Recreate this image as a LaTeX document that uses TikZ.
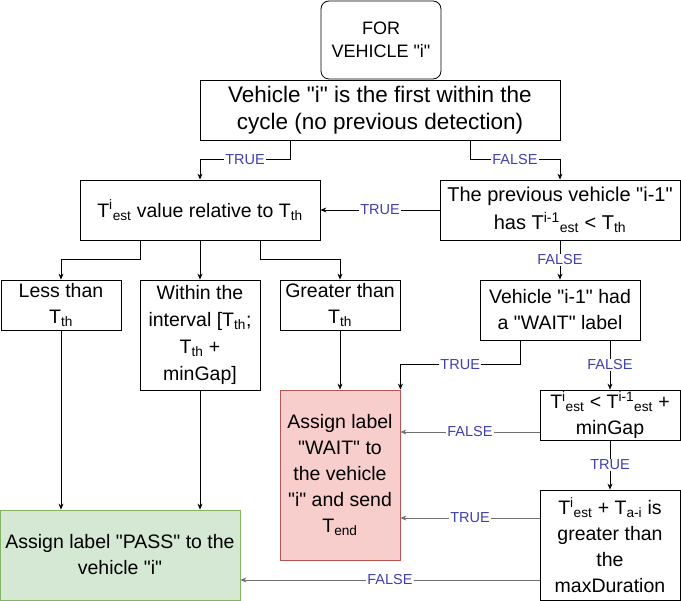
\documentclass[tikz,border=0pt]{standalone}
\usepackage{fontspec}
\setmainfont{Liberation Sans}[Ligatures=TeXOff]
\usetikzlibrary{arrows.meta}
\definecolor{lblblue}{HTML}{3F3FB0}
\definecolor{linegray}{HTML}{707070}
\definecolor{passfill}{HTML}{D5E8D4}
\definecolor{passdraw}{HTML}{82B366}
\definecolor{waitfill}{HTML}{F8CECC}
\definecolor{waitdraw}{HTML}{B85450}

\begin{document}
\begin{tikzpicture}[x=1pt,y=-1pt,
  box/.style={draw, line width=0.8pt, inner sep=1pt, align=center,
    font=\fontsize{19.5}{26}\selectfont},
  lbl/.style={fill=white, text=lblblue, inner sep=1pt,
    font=\fontsize{14.5}{16}\selectfont},
  arr/.style={line width=0.8pt, -{Stealth[length=6pt,width=5pt]}},
  garr/.style={arr, linegray}]
\useasboundingbox (0,0) rectangle (681,601);
\node[box, rounded corners=8pt, minimum width=120, minimum height=78,
  font=\fontsize{18}{23}\selectfont] (start) at (381,40) {FOR\\VEHICLE "i"};
\node[box, minimum width=360, minimum height=60,
  font=\fontsize{22.5}{27}\selectfont] (first) at (380,110)
  {Vehicle "i" is the first within the\\cycle (no previous detection)};
\node[box, minimum width=240, minimum height=60] (rel) at (200,210)
  {T\textsuperscript{i}\textsubscript{est} value relative to T\textsubscript{th}};
\node[box, minimum width=240, minimum height=60, font=\fontsize{20}{28}\selectfont] (prev) at (560,210)
  {The previous vehicle "i-1"\\has T\textsuperscript{i-1}\textsubscript{est} < T\textsubscript{th}};
\node[box, minimum width=120, minimum height=50] (less) at (61,305)
  {Less than\\T\textsubscript{th}};
\node[box, minimum width=120, minimum height=110, font=\fontsize{19.5}{27}\selectfont] (within) at (200,335)
  {Within the\\interval [T\textsubscript{th};\\T\textsubscript{th} +\\minGap]};
\node[box, minimum width=120, minimum height=50] (greater) at (340,305)
  {Greater than\\T\textsubscript{th}};
\node[box, minimum width=160, minimum height=60] (had) at (560,310)
  {Vehicle "i-1" had\\a "WAIT" label};
\node[box, draw=waitdraw, fill=waitfill, minimum width=120, minimum height=170] (wait) at (340,475)
  {Assign label\\"WAIT" to\\the vehicle\\"i" and send\\T\textsubscript{end}};
\node[box, minimum width=140, minimum height=50] (cond) at (610,415)
  {T\textsuperscript{i}\textsubscript{est} < T\textsuperscript{i-1}\textsubscript{est} +\\minGap};
\node[box, minimum width=140, minimum height=110] (last) at (610,545)
  {T\textsuperscript{i}\textsubscript{est} + T\textsubscript{a-i} is\\greater than\\the\\maxDuration};
\node[box, draw=passdraw, fill=passfill, minimum width=240, minimum height=90] (pass) at (120,555)
  {Assign label "PASS" to the\\vehicle "i"};

% first decision
\draw[arr] ([xshift=-90pt]first.south) |- node[lbl,pos=0.75]{TRUE} ([yshift=20pt]rel.north) -- (rel.north);
\draw[arr] ([xshift=90pt]first.south) |- node[lbl,pos=0.75]{FALSE} ([yshift=20pt]prev.north) -- (prev.north);
\draw[arr] (prev.west) -- node[lbl]{TRUE} (rel.east);
\draw[arr] (prev.south) -- node[lbl]{FALSE} (had.north);

% three ranges
\draw[arr] ([xshift=-60pt]rel.south) |- ([yshift=20pt]less.north) -- (less.north);
\draw[arr] (rel.south) -- (within.north);
\draw[arr] ([xshift=60pt]rel.south) |- ([yshift=20pt]greater.north) -- (greater.north);
\draw[arr] (less.south) -- (less.south |- pass.north);
\draw[arr] (within.south) -- (within.south |- pass.north);
\draw[arr] (greater.south) -- (wait.north);

% right column
\draw[arr] ([xshift=-40pt]had.south) |- node[lbl,pos=0.75]{TRUE} ([yshift=25pt]wait.north east) -- (wait.north east);
\draw[arr] ([xshift=50pt]had.south) -- node[lbl]{FALSE} (cond.north);
\draw[garr] ([yshift=-17pt]cond.west) -- node[lbl]{FALSE} ([yshift=43pt]wait.east);
\draw[arr] (cond.south) -- node[lbl]{TRUE} (last.north);
\draw[garr] ([yshift=27pt]last.west) -- node[lbl]{TRUE} ([yshift=-43pt]wait.east);
\draw[garr] ([yshift=-35pt]last.west) -- node[lbl]{FALSE} ([yshift=-25pt]pass.east);
\end{tikzpicture}
\end{document}
